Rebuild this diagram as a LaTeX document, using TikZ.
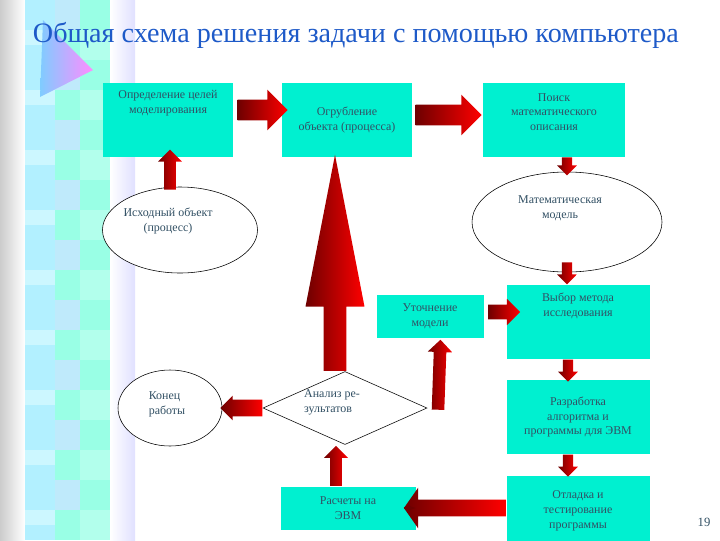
\documentclass[tikz,border=0pt]{standalone}
\usepackage{fontspec}
\setmainfont{Liberation Serif}
\usetikzlibrary{positioning,calc,shapes.geometric,shapes.arrows}
\definecolor{boxcyan}{RGB}{0,240,208}
\definecolor{txtgray}{RGB}{50,80,100}
\definecolor{titleblue}{RGB}{30,90,200}
\definecolor{darkred}{RGB}{110,0,0}
\tikzset{
  box/.style={fill=boxcyan,draw=none,text=txtgray,align=center,font=\fontsize{8.5}{10.5}\selectfont,inner sep=0pt},
  oval/.style={ellipse,draw=black,fill=white,text=txtgray,align=center,font=\fontsize{8.5}{10.5}\selectfont,inner sep=0pt},
  lbl/.style={text=txtgray,font=\fontsize{8.5}{10.5}\selectfont},
  blockarr/.style 2 args={single arrow,draw=none,left color=darkred,right color=red,
    inner sep=#1,single arrow head extend=#2,anchor=tail},
}
\begin{document}
\begin{tikzpicture}[x=0.025cm,y=-0.025cm]
\useasboundingbox (0,0) rectangle (720,540);
% background strip
\shade[left color=gray!40,right color=white] (0,0) rectangle (25,540);
\fill[blue!20!cyan!30] (25,0) rectangle (55,540);
\fill[green!25!cyan!40] (55,0) rectangle (110,540);
\foreach \y in {0,60,...,480}{
  \fill[cyan!25] (55,\y) rectangle (80,\y+30);
  \fill[green!25!cyan!30] (80,\y+30) rectangle (110,\y+60);
  \fill[blue!15!cyan!20] (25,\y+30) rectangle (55,\y+45);
}
\shade[left color=white,right color=blue!12] (110,0) rectangle (135,540);
\shade[left color=cyan!60!blue!50,right color=magenta!45] (40,97) -- (93,70) -- (43,20) -- cycle;
% title
\node[text=titleblue,font=\fontsize{20}{24}\selectfont,anchor=west] (title) at (28,35)
  {Общая схема решения задачи с помощью компьютера};
% blocks
\node[box,minimum width=130*0.025cm,minimum height=74*0.025cm] (opr) at (168,120) {};
\node[box] at (168,103) {Определение целей\\моделирования};
\node[box,minimum width=130*0.025cm,minimum height=74*0.025cm] (ogr) at (347,120) {Огрубление\\объекта (процесса)};
\node[box,minimum width=142*0.025cm,minimum height=74*0.025cm] (poisk) at (554,120) {};
\node[box] at (554,112) {Поиск\\математического\\описания};
\node[oval,minimum width=190*0.025cm,minimum height=100*0.025cm] (matmod) at (567,222) {};
\node[lbl,align=center] at (560,208) {Математическая\\модель};
\node[oval,minimum width=155*0.025cm,minimum height=86*0.025cm] (ishod) at (180,230) {};
\node[lbl,align=center] at (168,221) {Исходный объект\\(процесс)};
\node[box,minimum width=107*0.025cm,minimum height=43*0.025cm] (utoch) at (430,316) {Уточнение\\модели};
\node[box,minimum width=143*0.025cm,minimum height=74*0.025cm] (vybor) at (578,322) {};
\node[box] at (578,306) {Выбор метода\\исследования};
\node[box,minimum width=143*0.025cm,minimum height=74*0.025cm] (razrab) at (578,417) {Разработка\\алгоритма и\\программы для ЭВМ};
\node[box,minimum width=143*0.025cm,minimum height=70*0.025cm] (otlad) at (578,511) {Отладка и\\тестирование\\программы};
\node[box,minimum width=135*0.025cm,minimum height=43*0.025cm] (rasch) at (348,508) {Расчеты на\\ЭВМ};
\node[diamond,draw=black,fill=white,aspect=2.25,minimum width=164*0.025cm,minimum height=73*0.025cm,inner sep=0pt] (analiz) at (345,408) {};
\node[lbl,align=left] at (332,402) {Анализ ре-\\зультатов};
\node[oval,minimum width=104*0.025cm,minimum height=76*0.025cm] (konec) at (170,408) {};
\node[lbl,align=left] at (167,404) {Конец\\работы};
\node[text=txtgray,font=\fontsize{9}{10}\selectfont] (page) at (704,522) {19};
% block arrows
\node[blockarr={0.25cm}{0.25cm},minimum height=1.25cm] (a1) at ($(opr.east)+(4,-10)$) {};
\node[blockarr={0.25cm}{0.25cm},minimum height=1.65cm] (a2) at ($(ogr.east)+(3,-5)$) {};
\node[blockarr={0.12cm}{0.12cm},minimum height=0.45cm,rotate=-90] (a3) at (567,157) {};
\node[blockarr={0.12cm}{0.12cm},minimum height=0.55cm,rotate=-90] (a4) at (567,262) {};
\node[blockarr={0.12cm}{0.12cm},minimum height=0.55cm,rotate=-90] (a5) at ($(vybor.south)+(-10,0)$) {};
\node[blockarr={0.12cm}{0.12cm},minimum height=0.55cm,rotate=-90] (a6) at ($(razrab.south)+(-10,0)$) {};
\node[blockarr={0.2cm}{0.3cm},minimum height=2.55cm,rotate=180,single arrow tip angle=110] (a7) at ($(otlad.west)+(0,-3)$) {};
\draw[darkred,thick,-latex] (a7.tip) -- (rasch.east);
\node[blockarr={0.14cm}{0.15cm},minimum height=1.0cm,rotate=90] (a8) at ($(rasch.north)+(-12,0)$) {};
\node[blockarr={0.2cm}{0.1cm},minimum height=1.05cm,rotate=180] (a9) at (analiz.west) {};
\node[blockarr={0.15cm}{0.15cm},minimum height=1.75cm,rotate=88] (a10) at (438,410) {};
\node[blockarr={0.18cm}{0.14cm},minimum height=0.8cm] (a11) at ($(utoch.east)+(4,-4)$) {};
\node[blockarr={0.28cm}{0.45cm},minimum height=5.4cm,rotate=90,single arrow tip angle=22] (a12) at ($(analiz.north)+(-10,0)$) {};
\node[blockarr={0.14cm}{0.15cm},minimum height=1.0cm,rotate=90] (a13) at (170,190) {};
\end{tikzpicture}
\end{document}
